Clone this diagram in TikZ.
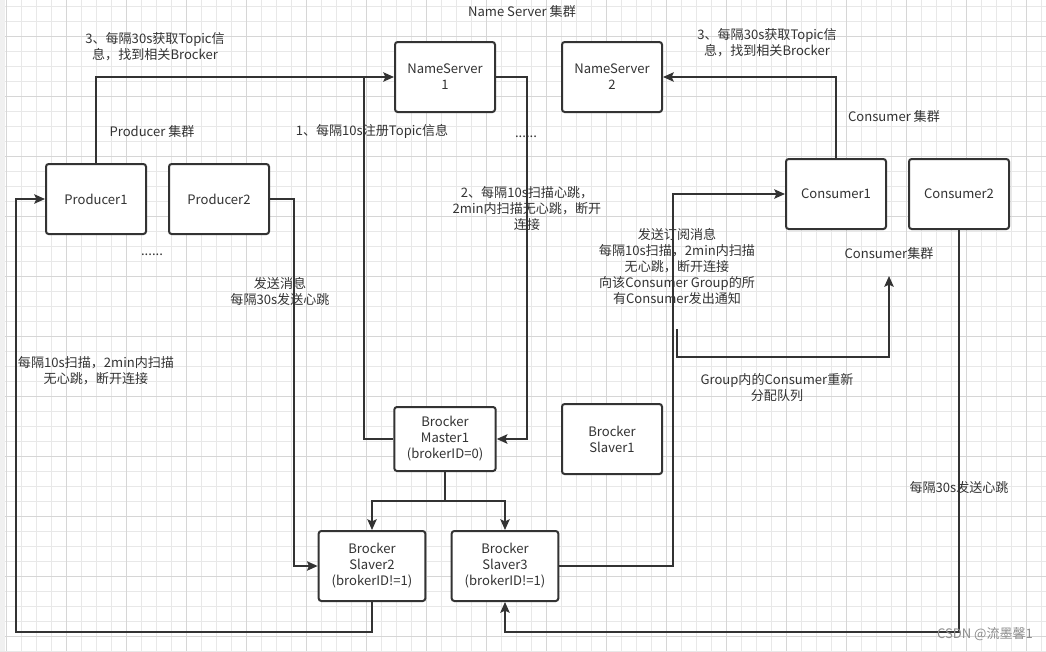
\documentclass[tikz,border=0pt]{standalone}
\usepackage{fontspec}
\setmainfont{Noto Sans CJK SC}
\usepackage{xcolor}
\usepackage{tikz}
\usetikzlibrary{arrows.meta,positioning}

\definecolor{linec}{HTML}{333333}
\definecolor{textc}{HTML}{333333}

\begin{document}
\begin{tikzpicture}[
        x=0.75pt, y=-0.75pt,
        every node/.style={font=\fontsize{9.8pt}{12pt}\selectfont, text=textc},
        box/.style={rectangle, draw=linec, line width=1.5pt, rounded corners=2pt, fill=white, minimum width=75pt, minimum height=52.5pt, align=center, inner sep=0pt},
        slave/.style={box, minimum width=80pt},
        master/.style={box, minimum width=76pt, minimum height=48pt},
        lbl/.style={align=center, inner sep=0pt},
        line/.style={draw=linec, line width=1.5pt},
        arrow/.style={line, -{Stealth[length=8pt,width=7pt,inset=1.5pt]}},
        minorgrid/.style={draw=black!9, line width=0.5pt},
        majorgrid/.style={draw=black!16, line width=0.6pt}
    ]
        \useasboundingbox (0,0) rectangle (1046,651);
        % Grid background
        \fill[white] (0,0) rectangle (1046,651);
        \foreach \x in {6,21,...,1046} \draw[minorgrid] (\x,0) -- (\x,651);
        \foreach \y in {6,21,...,651} \draw[minorgrid] (0,\y) -- (1046,\y);
        \foreach \x in {6,66,...,1046} \draw[majorgrid] (\x,0) -- (\x,651);
        \foreach \y in {36,96,...,651} \draw[majorgrid] (0,\y) -- (1046,\y);
        \fill[black!6] (0,0) rectangle (5,651);

        % Name Server cluster
        \node[lbl] (nstitle) at (522,12) {Name Server 集群};
        \node[box] (ns1) at (445,77) {NameServer\\1};
        \node[box] (ns2) at (612,77) {NameServer\\2};
        \node[lbl] (nsdots) at (526,137) {......};

        % Producer cluster
        \node[lbl] (ptitle) at (152,132) {Producer 集群};
        \node[box] (p1) at (96,199) {Producer1};
        \node[box] (p2) at (219,199) {Producer2};
        \node[lbl] (pdots) at (152,255) {......};

        % Consumer cluster
        \node[lbl] (ctitle) at (894,117) {Consumer 集群};
        \node[box] (c1) at (836,194) {Consumer1};
        \node[box] (c2) at (959,194) {Consumer2};
        \node[lbl] (cgroup) at (889,254) {Consumer集群};

        % Brockers
        \node[master] (bm1) at (445,439) {Brocker\\Master1\\(brokerID=0)};
        \node[box] (bs1) at (612,439) {Brocker\\Slaver1};
        \node[slave] (bs2) at (372,566) {Brocker\\Slaver2\\(brokerID!=1)};
        \node[slave] (bs3) at (505,566) {Brocker\\Slaver3\\(brokerID!=1)};

        % Connections
        \coordinate (reg) at (364,77);
        \draw[arrow] (p1.north) |- (ns1.west);
        \draw[line] (bm1.west) -| (reg);
        \draw[arrow] (ns1.east) -- ++(31,0) |- (bm1.east);
        \draw[arrow] (p2.east) -- ++(24,0) |- (bs2.west);
        \draw[arrow] (bs2.south) -- ++(0,30) -- ++(-356,0) |- (p1.west);
        \draw[arrow] (bm1.south) -- ++(0,29) -| (bs2.north);
        \draw[arrow] (bm1.south) -- ++(0,29) -| (bs3.north);
        \draw[arrow] (bs3.east) -- ++(114,0) |- (c1.west);
        \draw[arrow] (c1.north) |- (ns2.east);
        \draw[arrow] (c2.south) -- ++(0,402) -| (bs3.south);
        \coordinate (gstart) at (677,329);
        \coordinate (gend) at (889,276);
        \draw[arrow] (gstart) -- ++(0,28) -| (gend);

        % Labels
        \node[lbl] (lfetchp) at (155,47) {3、每隔30s获取Topic信\\息，找到相关Brocker};
        \node[lbl] (lfetchc) at (767,43) {3、每隔30s获取Topic信\\息，找到相关Brocker};
        \node[lbl] (lreg) at (372,131) {1、每隔10s注册Topic信息};
        \node[lbl] (lscan) at (527,209) {2、每隔10s扫描心跳，\\2min内扫描无心跳，断开\\连接};
        \node[lbl] (lsend) at (280,291) {发送消息\\每隔30s发送心跳};
        \node[lbl] (lpscan) at (96,371) {每隔10s扫描，2min内扫描\\无心跳，断开连接};
        \node[lbl] (lsub) at (677,266) {发送订阅消息\\每隔10s扫描，2min内扫描\\无心跳，断开连接\\向该Consumer Group的所\\有Consumer发出通知};
        \node[lbl] (lgroup) at (777,388) {Group内的Consumer重新\\分配队列};
        \node[lbl] (lcbeat) at (959,488) {每隔30s发送心跳};
        \node[lbl, text=black!45] (mark) at (985,634) {CSDN @流墨馨1};
    \end{tikzpicture}
\end{document}
